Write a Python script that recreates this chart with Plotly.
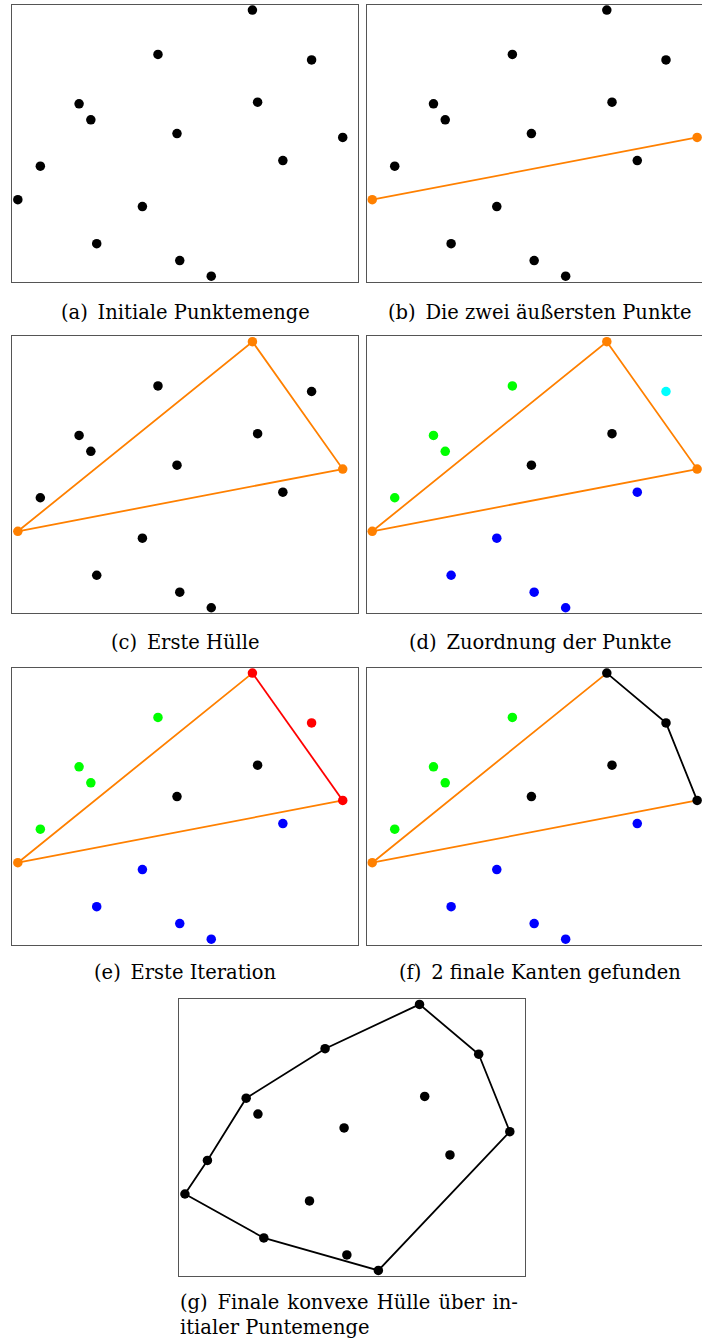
import plotly.graph_objects as go

# ---------------- data ----------------
point_x = [6.94, 4.21, 8.65, 1.93, 7.09, 2.27, 4.76, 9.55, 0.81, 7.82, 0.16, 3.76, 2.44, 4.84, 5.75]
point_y = [7.85, 6.57, 6.41, 5.14, 5.19, 4.68, 4.28, 4.17, 3.34, 3.50, 2.37, 2.17, 1.10, 0.61, 0.16]

# assignment of the points after the first hull (panel d)
point_region = ["extreme", "upper_left", "upper_right", "upper_left", "inside",
                "upper_left", "inside", "extreme", "upper_left", "lower",
                "extreme", "lower", "lower", "lower", "lower"]

idx_left, idx_right, idx_top, idx_far = 10, 7, 0, 2
final_hull = [10, 8, 3, 1, 0, 2, 7, 14, 12, 10]

captions = [
    "(a)\u2002Initiale Punktemenge",
    "(b)\u2002Die zwei äußersten Punkte",
    "(c)\u2002Erste Hülle",
    "(d)\u2002Zuordnung der Punkte",
    "(e)\u2002Erste Iteration",
    "(f)\u20022 finale Kanten gefunden",
]
caption_g = ["(g)\u2002Finale konvexe Hülle über in-", "itialer Puntemenge"]

# ---------------- styles ----------------
ORANGE = "rgb(255,128,0)"
RED = "rgb(255,0,0)"
GREEN = "rgb(0,255,0)"
CYAN = "rgb(0,255,255)"
BLUE = "rgb(0,0,255)"
BLACK = "rgb(0,0,0)"
region_color = {"upper_left": GREEN, "upper_right": CYAN, "lower": BLUE, "inside": BLACK}

W, H = 702, 1343
PW, PH = 346.0, 277.0          # panel box size in px
SCALE = 34.6                   # px per data unit
FONT = "DejaVu Serif"
FS = 19.5

col_x0 = [12.3, 366.7]
row_y0 = [4.7, 336.3, 667.7]
cap_y = [312.5, 642.5, 972.5]
g_x0, g_y0 = 179.4, 999.0


def point_colors(panel):
    cols = []
    for i, r in enumerate(point_region):
        c = BLACK
        if panel == "b":
            if i in (idx_left, idx_right):
                c = ORANGE
        elif panel == "c":
            if i in (idx_left, idx_right, idx_top):
                c = ORANGE
        elif panel == "d":
            c = ORANGE if r == "extreme" else region_color[r]
        elif panel == "e":
            if i == idx_left:
                c = ORANGE
            elif i in (idx_top, idx_right, idx_far):
                c = RED
            else:
                c = region_color[r]
        elif panel == "f":
            if i == idx_left:
                c = ORANGE
            elif i in (idx_top, idx_right, idx_far):
                c = BLACK
            else:
                c = region_color[r]
        cols.append(c)
    return cols


def segments(panel):
    if panel == "b":
        return [([idx_left, idx_right], ORANGE)]
    if panel in ("c", "d"):
        return [([idx_left, idx_top, idx_right, idx_left], ORANGE)]
    if panel == "e":
        return [([idx_top, idx_left, idx_right], ORANGE), ([idx_top, idx_right], RED)]
    if panel == "f":
        return [([idx_top, idx_left, idx_right], ORANGE), ([idx_top, idx_far, idx_right], BLACK)]
    if panel == "g":
        return [(final_hull, BLACK)]
    return []


fig = go.Figure()
panels = []
names = ["a", "b", "c", "d", "e", "f"]
for k, name in enumerate(names):
    r, c = divmod(k, 2)
    panels.append((name, col_x0[c], row_y0[r], c == 1))
panels.append(("g", g_x0, g_y0, False))

layout_axes = {}
for n, (name, x0, y0, clipped) in enumerate(panels, start=1):
    xa = "x" if n == 1 else f"x{n}"
    ya = "y" if n == 1 else f"y{n}"
    x1 = min(x0 + PW, W)
    y1 = y0 + PH
    xr = [0, (x1 - x0) / SCALE]
    yr = [0, PH / SCALE]
    layout_axes[("xaxis" if n == 1 else f"xaxis{n}")] = dict(
        domain=[x0 / W, x1 / W], range=xr, anchor=ya,
        showticklabels=False, ticks="", showgrid=False, zeroline=False,
        showline=True, linecolor="#555555", linewidth=1.2, mirror=True, fixedrange=True)
    layout_axes[("yaxis" if n == 1 else f"yaxis{n}")] = dict(
        domain=[1 - y1 / H, 1 - y0 / H], range=yr, anchor=xa,
        showticklabels=False, ticks="", showgrid=False, zeroline=False,
        showline=True, linecolor="#555555", linewidth=1.2, mirror=not clipped, fixedrange=True)

    for idxs, col in segments(name):
        fig.add_trace(go.Scatter(
            x=[point_x[i] for i in idxs], y=[point_y[i] for i in idxs],
            mode="lines", line=dict(color=col, width=1.8),
            xaxis=xa, yaxis=ya, hoverinfo="skip"))
    fig.add_trace(go.Scatter(
        x=point_x, y=point_y, mode="markers",
        marker=dict(color=point_colors(name), size=9.5, line=dict(width=0)),
        xaxis=xa, yaxis=ya, hoverinfo="skip"))

annotations = []
for k, text in enumerate(captions):
    r, c = divmod(k, 2)
    cx = col_x0[c] + PW / 2
    annotations.append(dict(text=text, x=cx / W, y=1 - cap_y[r] / H, xref="paper", yref="paper",
                            xanchor="center", yanchor="middle", showarrow=False,
                            font=dict(family=FONT, size=FS, color="black")))
# first caption line of (g) is justified to the panel width: widen its word gaps slightly
g_lines = [caption_g[0].replace(" ", " \u200a"), caption_g[1]]
for j, (text, yy) in enumerate(zip(g_lines, [1302.5, 1327.0])):
    annotations.append(dict(text=text, x=(g_x0 - 1) / W, y=1 - yy / H, xref="paper", yref="paper",
                            xanchor="left", yanchor="middle", showarrow=False,
                            font=dict(family=FONT, size=FS, color="black")))

fig.update_layout(
    width=W, height=H, margin=dict(l=0, r=0, t=0, b=0),
    paper_bgcolor="white", plot_bgcolor="white", showlegend=False,
    annotations=annotations, **layout_axes)

fig.write_html(
    "out.html",
    config={"displayModeBar": False},
    post_script="document.body.style.margin='0';document.body.style.overflow='hidden';",
)
